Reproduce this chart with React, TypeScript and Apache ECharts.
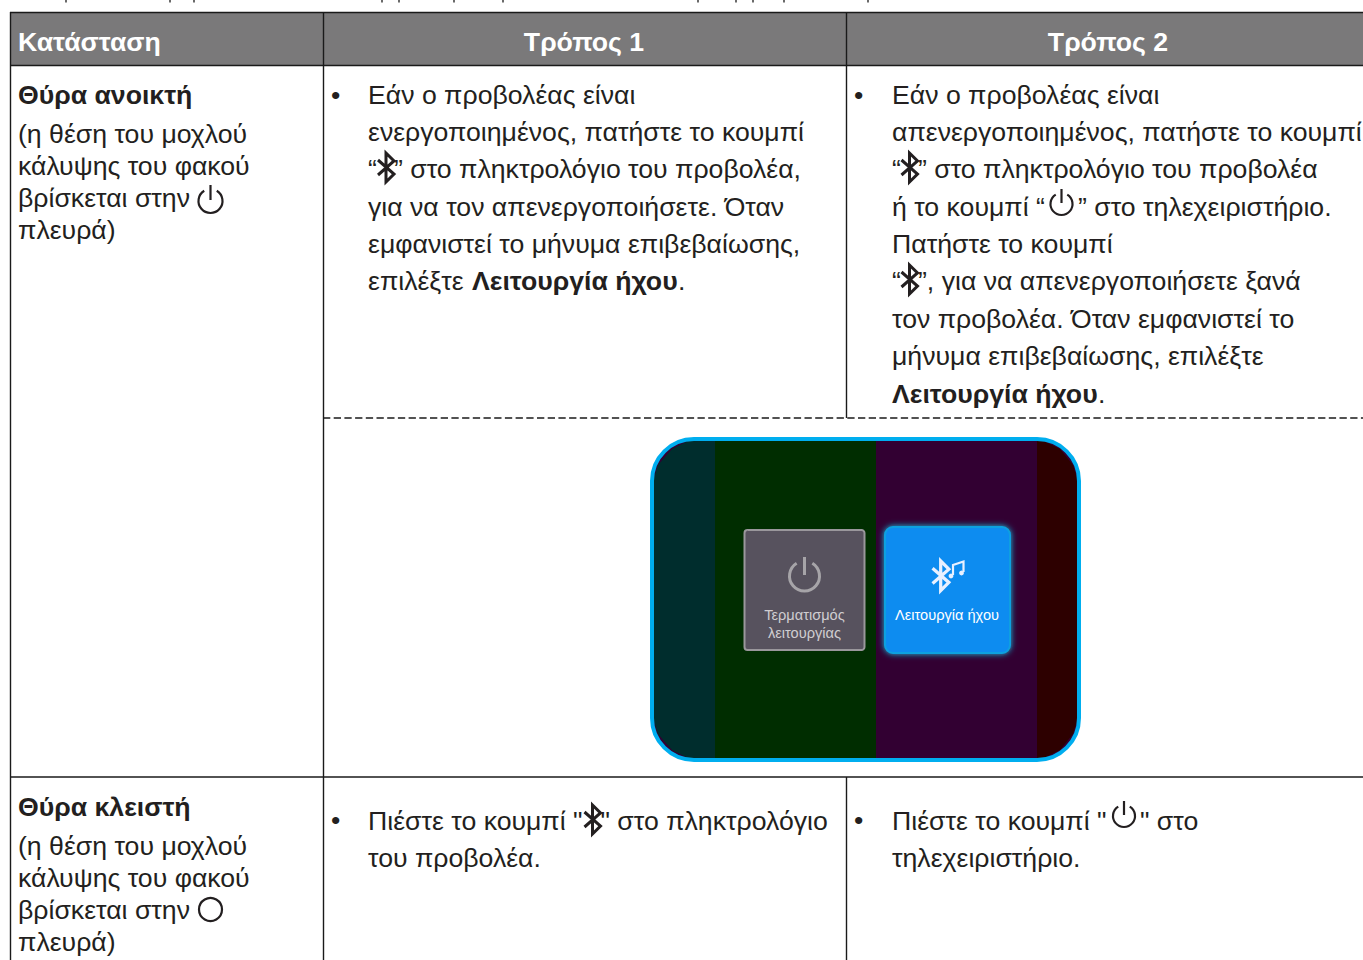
import React, { useEffect, useRef } from "react";
import * as echarts from "echarts";

const FONT = '"Liberation Sans", Arial, sans-serif';
const INK = "#231f20";
const HEADERS = ["Κατάσταση", "Τρόπος 1", "Τρόπος 2"];
const STATE_OPEN = ["(η θέση του μοχλού", "κάλυψης του φακού", "βρίσκεται στην", "πλευρά)"];
const MODE1_OPEN = ["Εάν ο προβολέας είναι", "ενεργοποιημένος, πατήστε το κουμπί", "", "για να τον απενεργοποιήσετε. Όταν", "εμφανιστεί το μήνυμα επιβεβαίωσης,", ""];
const MODE2_OPEN = ["Εάν ο προβολέας είναι", "απενεργοποιημένος, πατήστε το κουμπί", "", "", "Πατήστε το κουμπί", "", "τον προβολέα. Όταν εμφανιστεί το", "μήνυμα επιβεβαίωσης, επιλέξτε"];
const CROPPED_LINE_MARKS = [66, 170, 194, 382, 399, 454, 503, 698, 736, 753, 784, 868];

echarts.graphic.registerShape("bt", echarts.graphic.extendPath("M2 8 L18 22 L10 30 L10 1 L18 9 L2 23", {}) as any);

function App() {
  const ref = useRef<HTMLDivElement>(null);
  useEffect(() => {
    document.body.style.margin = "0";
    const chart = echarts.init(ref.current!, undefined, { renderer: "svg" });
    const els: any[] = [];
    const txt = (s: string, x: number, base: number, o: any = {}) => {
      const size = o.size ?? 26.65;
      els.push({ type: "text", x, y: base - 0.8465 * size, style: { text: s, fill: o.fill ?? INK, font: `${o.bold ? "bold " : ""}${size}px ${o.font ?? FONT}`, textAlign: o.align ?? "left" } });
    };
    const ln = (x1: number, y1: number, x2: number, y2: number, o: any = {}) =>
      els.push({ type: "line", shape: { x1, y1, x2, y2 }, style: { stroke: o.c ?? "#1a1a1a", lineWidth: o.w ?? 1.4, lineDash: o.dash } });
    const power = (cx: number, cy: number, r: number, color = INK, w = 2.2) => {
      els.push({ type: "arc", shape: { cx, cy, r, startAngle: -Math.PI / 2 + 0.55, endAngle: -Math.PI / 2 - 0.55, clockwise: true }, style: { stroke: color, fill: "none", lineWidth: w } });
      els.push({ type: "line", shape: { x1: cx, y1: cy - r - 4, x2: cx, y2: cy - 1 }, style: { stroke: color, lineWidth: w } });
    };
    const bt = (x: number, y: number, s = 1, color = INK, w = 3) =>
      els.push({ type: "bt", x, y, scaleX: s, scaleY: s, style: { stroke: color, fill: "none", lineWidth: w } });

    // tail ends of the line cropped by the top edge
    CROPPED_LINE_MARKS.forEach((x) => ln(x, 0, x, 2.5, { w: 1.6, c: "#444" }));

    // header
    els.push({ type: "rect", shape: { x: 10, y: 12, width: 1353, height: 53 }, style: { fill: "#7a797a" } });
    txt(HEADERS[0], 18, 51, { bold: true, fill: "#fff" });
    txt(HEADERS[1], 584, 51, { bold: true, fill: "#fff", align: "center" });
    txt(HEADERS[2], 1108, 51, { bold: true, fill: "#fff", align: "center" });

    // grid
    ln(10, 12.5, 1363, 12.5); ln(10, 65.5, 1363, 65.5); ln(10, 777, 1363, 777);
    ln(10.5, 12, 10.5, 960); ln(323.5, 12, 323.5, 960);
    ln(846.5, 12, 846.5, 418); ln(846.5, 777, 846.5, 960);
    ln(323, 418, 1363, 418, { dash: [7.3, 3.4], w: 1.3 });

    // state column
    txt("Θύρα ανοικτή", 18, 104, { bold: true });
    STATE_OPEN.forEach((s, i) => txt(s, 18, 143 + i * 32));
    power(210.5, 201, 12);
    txt("Θύρα κλειστή", 18, 816, { bold: true });
    STATE_OPEN.forEach((s, i) => txt(s, 18, 855 + i * 32));
    els.push({ type: "circle", shape: { cx: 210.5, cy: 909.5, r: 11.5 }, style: { stroke: INK, fill: "none", lineWidth: 2.2 } });

    // mode 1
    txt("•", 331, 104);
    MODE1_OPEN.forEach((s, i) => s && txt(s, 368, 104 + i * 37.2));
    txt("“", 368, 178); bt(376, 152); txt("” στο πληκτρολόγιο του προβολέα,", 394, 178);
    txt("επιλέξτε ", 368, 290); txt("Λειτουργία ήχου", 472, 290, { bold: true }); txt(".", 678, 290);

    // mode 2
    txt("•", 854, 104);
    MODE2_OPEN.forEach((s, i) => s && txt(s, 892, 104 + i * 37.3));
    txt("“", 892, 178); bt(899.5, 152); txt("” στο πληκτρολόγιο του προβολέα", 918, 178);
    txt("ή το κουμπί “", 892, 216); power(1061.5, 204, 11); txt("” στο τηλεχειριστήριο.", 1078, 216);
    txt("“", 892, 290); bt(899.5, 264); txt("”, για να απενεργοποιήσετε ξανά", 918, 290);
    txt("Λειτουργία ήχου", 892, 403, { bold: true }); txt(".", 1098, 403);

    // closed row
    txt("•", 331, 829);
    txt("Πιέστε το κουμπί \"", 368, 830); bt(582.5, 804); txt("\" στο πληκτρολόγιο", 600.5, 830);
    txt("του προβολέα.", 368, 867);
    txt("•", 854, 829);
    txt("Πιέστε το κουμπί \"", 892, 830); power(1124, 816, 11); txt("\" στο", 1140, 830);
    txt("τηλεχειριστήριο.", 892, 867);

    // on-screen dialog
    const sx = 650, sy = 437, sw = 431, sh = 325;
    els.push({ type: "rect", shape: { x: sx + 2, y: sy + 2, width: sw - 4, height: sh - 4, r: 42 }, style: { fill: "#320032" } });
    els.push({ type: "rect", shape: { x: 715, y: sy + 3, width: 161, height: sh - 6 }, style: { fill: "#002d00" } });
    els.push({ type: "polygon", shape: { points: [[715, sy + 3], [715, sy + sh - 3], [690, sy + sh - 3], [672, sy + sh - 12], [658, sy + sh - 28], [653, sy + sh - 44], [653, sy + 44], [658, sy + 28], [672, sy + 12], [690, sy + 3]] }, style: { fill: "#002d2d" } });
    els.push({ type: "polygon", shape: { points: [[1037, sy + 3], [1037, sy + sh - 3], [1042, sy + sh - 3], [1060, sy + sh - 12], [1073, sy + sh - 28], [1078, sy + sh - 44], [1078, sy + 44], [1073, sy + 28], [1060, sy + 12], [1042, sy + 3]] }, style: { fill: "#2d0000" } });
    els.push({ type: "rect", shape: { x: sx + 2, y: sy + 2, width: sw - 4, height: sh - 4, r: 42 }, style: { fill: "none", stroke: "#00aeef", lineWidth: 4 } });

    els.push({ type: "rect", shape: { x: 744.5, y: 530, width: 120, height: 120, r: 3 }, style: { fill: "#57525e", stroke: "#9a979c", lineWidth: 2 } });
    power(804.5, 576, 15, "#a6a4a8", 3);
    txt("Τερματισμός", 804.5, 620, { fill: "#cfcdd1", size: 14.6, align: "center" });
    txt("λειτουργίας", 804.5, 638, { fill: "#cfcdd1", size: 14.6, align: "center" });

    els.push({ type: "rect", shape: { x: 885, y: 527, width: 125, height: 126, r: 8 }, style: { fill: "#0a8cf0", stroke: "#10a0e0", lineWidth: 2, shadowBlur: 6, shadowColor: "#14c0e0" } });
    bt(930.5, 560, 1.02, "#e8f0ff", 3.2);
    els.push({ type: "polyline", shape: { points: [[953, 575], [953, 565], [963.5, 561.5], [963.5, 572]] }, style: { stroke: "#e8f0ff", fill: "none", lineWidth: 2.2 } });
    els.push({ type: "circle", shape: { cx: 951, cy: 576, r: 2.4 }, style: { fill: "#e8f0ff" } });
    els.push({ type: "circle", shape: { cx: 961.5, cy: 573, r: 2.4 }, style: { fill: "#e8f0ff" } });
    txt("Λειτουργία ήχου", 947, 620, { fill: "#ffffff", size: 14.6, align: "center" });

    chart.setOption({ animation: false, graphic: { elements: els } });
    return () => chart.dispose();
  }, []);
  return <div ref={ref} style={{ width: 1363, height: 960 }} />;
}
export default App;
